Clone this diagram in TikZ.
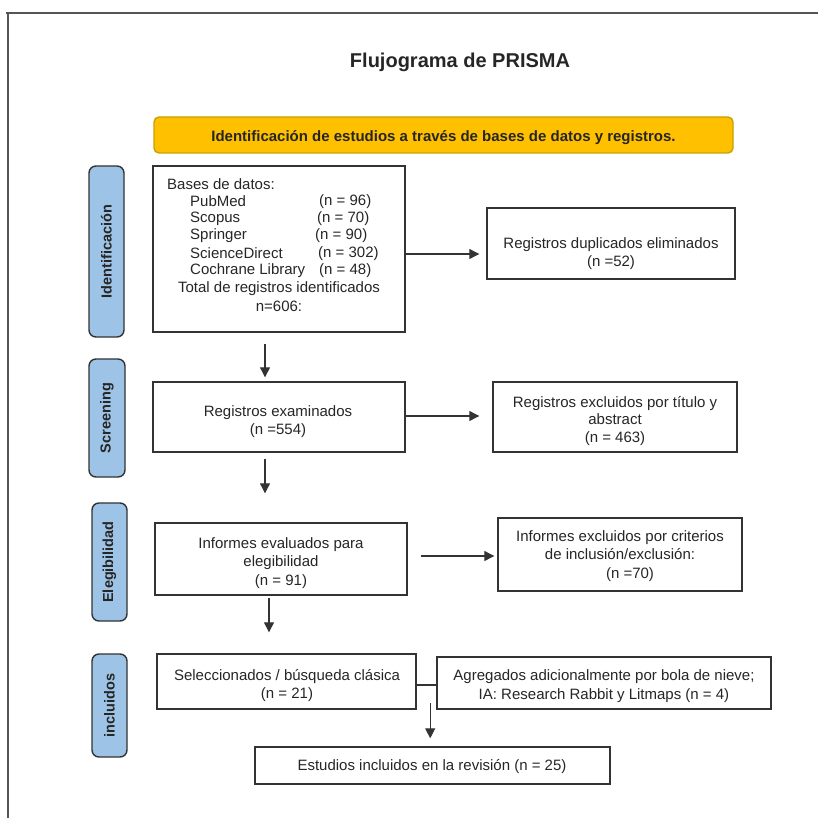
\documentclass[tikz,border=0pt]{standalone}
\usepackage{fontspec}
\setmainfont{Liberation Sans}
\usetikzlibrary{arrows.meta}
\definecolor{gold}{HTML}{FFC000}
\definecolor{goldedge}{HTML}{C9A000}
\definecolor{sideblue}{HTML}{9DC3E6}
\definecolor{edge}{HTML}{333333}
\definecolor{ink}{HTML}{262626}
\definecolor{frame}{HTML}{555555}
\tikzset{
  box/.style={draw=edge, line width=1.4pt, fill=white, inner sep=0pt},
  boxtext/.style={inner sep=0pt, align=center, text=ink, font=\fontsize{15}{18.5}\selectfont},
  sidelabel/.style={draw=edge, line width=1.4pt, fill=sideblue, rounded corners=7pt,
    rotate=90, text=ink, font=\bfseries\fontsize{14.5}{17}\selectfont},
  banner/.style={draw=goldedge, line width=1.4pt, fill=gold, rounded corners=5pt,
    text=ink, text height=14pt, text depth=0pt, font=\bfseries\fontsize{15}{18}\selectfont},
  txt/.style={inner sep=0pt, text=ink, font=\fontsize{15}{18}\selectfont},
  arr/.style={draw=edge, line width=1.1pt, -{Triangle[length=10pt,width=10pt]}},
  plainline/.style={draw=edge, line width=1.1pt}
}
\begin{document}
\begin{tikzpicture}[x=1pt,y=-1pt]
\useasboundingbox (0,0) rectangle (818,818);
% frame
\draw[frame, line width=1.5pt] (6,13) -- (818,13);
\draw[frame, line width=1.5pt] (8,13) -- (8,818);

\node[inner sep=0pt, text=ink, font=\bfseries\fontsize{20}{24}\selectfont] (title) at (460,62) {Flujograma de PRISMA};

\node[banner, minimum width=579pt, minimum height=36pt] (ban) at (443.5,135)
  {Identificación de estudios a través de bases de datos y registros.};

% side labels
\node[sidelabel, minimum width=171pt, minimum height=35pt] (L1) at (106.5,251.5) {Identificación};
\node[sidelabel, minimum width=118pt, minimum height=36pt] (L2) at (107,418) {Screening};
\node[sidelabel, minimum width=118pt, minimum height=35pt] (L3) at (109.5,562) {Elegibilidad};
\node[sidelabel, minimum width=103pt, minimum height=35pt] (L4) at (109.5,705.5) {incluidos};

% identification box
\node[box, minimum width=252pt, minimum height=166pt] (b1) at (279,249) {};
\node[txt, anchor=west] (t0) at (167,184) {Bases de datos:};
\node[txt, anchor=west] (t1) at (190,201.5) {PubMed};
\node[txt, anchor=west] (n1) at (319,201.5) {(n = 96)};
\node[txt, anchor=west] (t2) at (190,219) {Scopus};
\node[txt, anchor=west] (n2) at (317,219) {(n = 70)};
\node[txt, anchor=west] (t3) at (190,236) {Springer};
\node[txt, anchor=west] (n3) at (315,236) {(n = 90)};
\node[txt, anchor=west] (t4) at (190,253.5) {ScienceDirect};
\node[txt, anchor=west] (n4) at (318,253.5) {(n = 302)};
\node[txt, anchor=west] (t5) at (190,271) {Cochrane Library};
\node[txt, anchor=west] (n5) at (319,271) {(n = 48)};
\node[txt] (t6) at (279,288.5) {Total de registros identificados};
\node[txt] (t7) at (279,306) {n=606:};

% other boxes
\node[box, minimum width=248pt, minimum height=71pt] (dup) at (611,243.5) {};
\node[boxtext] (dupT) at (611,253.5) {Registros duplicados eliminados\\(n =52)};

\node[box, minimum width=252pt, minimum height=70pt] (b2) at (279,417) {};
\node[boxtext] (b2T) at (278,421.5) {Registros examinados\\(n =554)};

\node[box, minimum width=244pt, minimum height=70pt] (exc1) at (615,417) {};
\node[boxtext, font=\fontsize{15}{17.5}\selectfont] (exc1T) at (615,421) {Registros excluidos por título y\\abstract\\(n = 463)};

\node[box, minimum width=252pt, minimum height=72pt] (b3) at (281,559) {};
\node[boxtext] (b3T) at (281,563) {Informes evaluados para\\elegibilidad\\(n = 91)};

\node[box, minimum width=244pt, minimum height=73pt] (exc2) at (620,554.5) {};
\node[boxtext] (exc2T) at (620,556) {Informes excluidos por criterios\\de inclusión/exclusión:\\\hspace*{20pt}(n =70)};

\node[box, minimum width=259pt, minimum height=55pt] (b4) at (286.5,681.5) {};
\node[boxtext] (b4T) at (287,685.5) {Seleccionados / búsqueda clásica\\(n = 21)};

\node[box, minimum width=334pt, minimum height=52pt] (b5) at (604,683) {};
\node[boxtext] (b5T) at (604,686) {Agregados adicionalmente por bola de nieve;\\IA: Research Rabbit y Litmaps (n = 4)};

\node[box, minimum width=355pt, minimum height=37pt] (fin) at (432.5,765.5) {};
\node[boxtext] (finT) at (432,767) {Estudios incluidos en la revisión (n = 25)};

% connectors
\draw[arr, shorten >=7pt] ([yshift=-5pt]b1.east) -- ([yshift=-5pt]b1.east -| dup.west);
\draw[arr, shorten <=11pt, shorten >=4pt] ([xshift=-14pt]b1.south) -- ([xshift=-14pt]b1.south |- b2.north);
\draw[arr, shorten >=13pt] ([yshift=1pt]b2.east) -- ([yshift=1pt]b2.east -| exc1.west);
\draw[arr, shorten <=6pt, shorten >=29pt] ([xshift=-14pt]b2.south) -- ([xshift=-14pt]b2.south |- b3.north);
\draw[arr, shorten <=13pt, shorten >=3pt] ([yshift=3pt]b3.east) -- ([yshift=3pt]b3.east -| exc2.west);
\draw[arr, shorten <=2pt, shorten >=21pt] ([xshift=-12pt]b3.south) -- ([xshift=-12pt]b3.south |- b4.north);
\draw[plainline] ([yshift=-3.5pt]b4.east) -- ([yshift=-3.5pt]b4.east -| b5.west);
\coordinate (j) at ([xshift=13.5pt, yshift=-21.5pt]b4.east);
\draw[arr, shorten >=8pt] (j) -- (j |- fin.north);
\end{tikzpicture}
\end{document}
